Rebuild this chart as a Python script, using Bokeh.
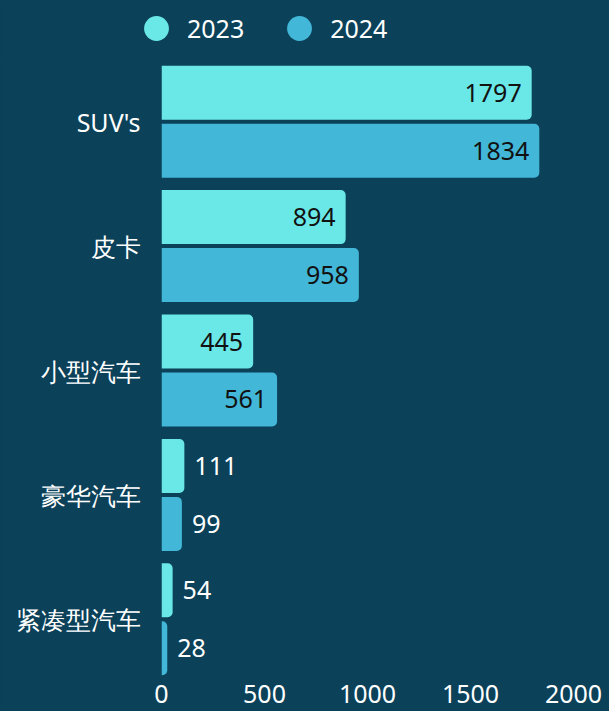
from bokeh.plotting import figure
from bokeh.models import ColumnDataSource, FactorRange, Range1d, Legend, LegendItem, FixedTicker
from bokeh.layouts import column
from bokeh.transform import dodge
from bokeh.core.properties import value
from bokeh.embed import file_html
from bokeh.resources import INLINE

# ---- data ----
categories = ["SUV's", "皮卡", "小型汽车", "豪华汽车", "紧凑型汽车"]
series_names = ["2023", "2024"]
values_2023 = [1797, 894, 445, 111, 54]
values_2024 = [1834, 958, 561, 99, 28]
x_ticks = [0, 500, 1000, 1500, 2000]

# ---- style ----
BG = "#0b4159"
COLORS = ["#6ae8e8", "#42b7d7"]
FONT = "Noto Sans"
FS = "25px"
INSIDE_MIN = 300
OFFSETS = [0.233, -0.233]
BAR_H = 0.434
W = 609
BG_STYLE = {"background-color": BG}


def clean(fig):
    fig.outline_line_color = None
    fig.border_line_color = None
    fig.xgrid.visible = False
    fig.ygrid.visible = False


# ---- legend strip ----
lg = figure(width=W, height=56, output_backend="svg", toolbar_location=None,
            x_axis_location=None, y_axis_location=None,
            min_border_left=0, min_border_right=0, min_border_top=0, min_border_bottom=0,
            background_fill_color=BG, border_fill_color=BG, styles=BG_STYLE)
lg.frame_align = False
clean(lg)

# ---- main chart ----
p = figure(width=W, height=655,
           y_range=FactorRange(factors=list(reversed(categories))),
           x_range=Range1d(0, 2000),
           output_backend="svg", toolbar_location=None,
           min_border_left=161, min_border_right=36,
           min_border_top=3, min_border_bottom=30,
           background_fill_color=BG, border_fill_color=BG, styles=BG_STYLE)
p.frame_align = False
clean(p)

for ax in (p.xaxis[0], p.yaxis[0]):
    ax.axis_line_color = None
    ax.major_tick_line_color = None
    ax.minor_tick_line_color = None
    ax.major_tick_out = 0
    ax.major_tick_in = 0
    ax.major_label_text_color = "#ffffff"
    ax.major_label_text_font = FONT
    ax.major_label_text_font_size = FS
p.xaxis.ticker = FixedTicker(ticks=x_ticks)
p.xaxis.major_label_standoff = 3
p.yaxis.major_label_standoff = 21

legend_items = []
for name, vals, color, off in zip(series_names, [values_2023, values_2024], COLORS, OFFSETS):
    inside = [v >= INSIDE_MIN for v in vals]
    src = ColumnDataSource(dict(
        cat=categories,
        v=vals,
        lab=[str(v) for v in vals],
        align=["right" if i else "left" for i in inside],
        tcolor=["#111111" if i else "#ffffff" for i in inside],
        xoff=[-10 if i else 10 for i in inside],
    ))
    p.hbar(y=dodge("cat", off, range=p.y_range), left=0, right="v", height=BAR_H,
           source=src, fill_color=color, line_color=None,
           border_radius=(0, 5, 5, 0))
    p.text(x="v", y=dodge("cat", off, range=p.y_range), text="lab", source=src,
           text_align="align", text_color="tcolor", x_offset="xoff",
           text_baseline="middle", text_font=value(FONT), text_font_size=FS)
    # legend swatch renderer (zero-size marker; only its legend glyph is shown)
    r = lg.scatter(x=[0], y=[0], marker="circle", size=0,
                   fill_color=color, line_color=None)
    legend_items.append(LegendItem(label=name, renderers=[r]))

legend = Legend(items=legend_items, orientation="horizontal",
                location="left", margin=125,
                glyph_width=62, glyph_height=62,
                label_standoff=0, spacing=24, padding=0,
                label_text_font=FONT, label_text_font_size=FS,
                label_text_color="#ffffff",
                border_line_color=None, background_fill_alpha=0)
lg.add_layout(legend, "center")

layout = column(lg, p, spacing=0, styles=BG_STYLE)
open("out.html", "w").write(file_html(layout, INLINE))
